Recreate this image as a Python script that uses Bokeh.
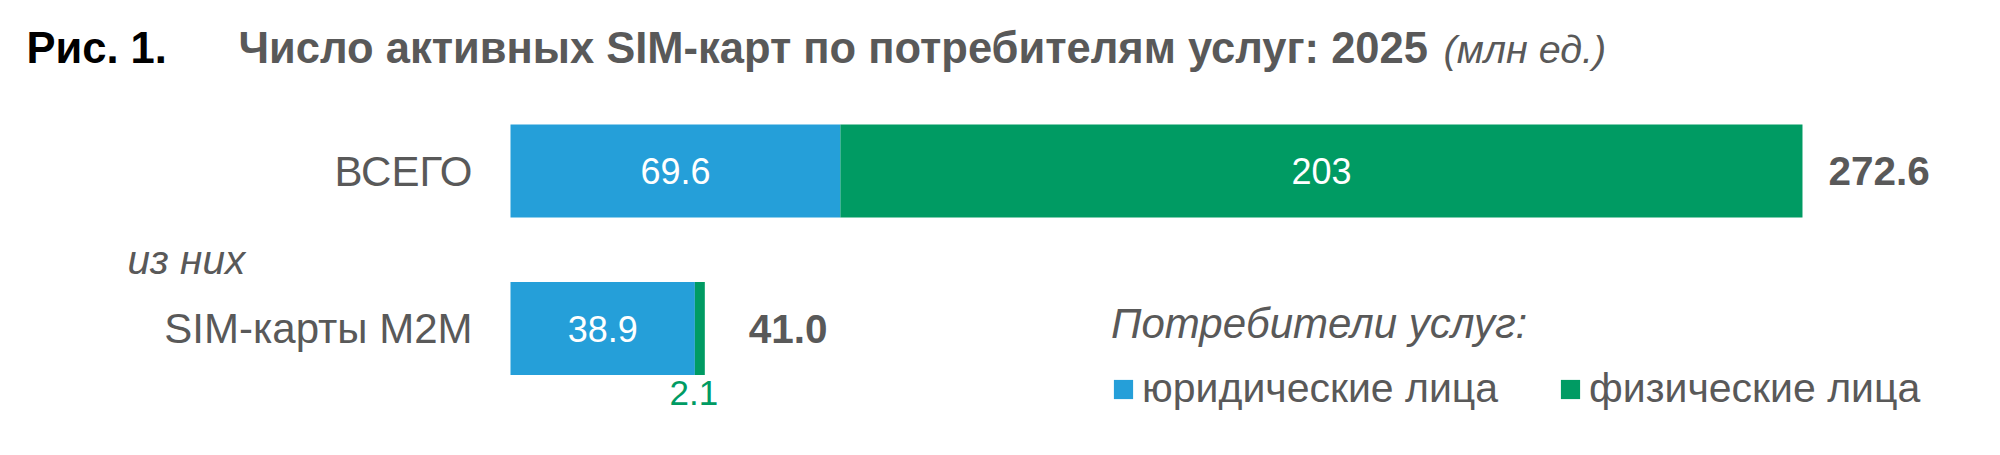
from bokeh.plotting import figure
from bokeh.models import ColumnDataSource, Range1d, Label, Legend, LegendItem
from bokeh.core.properties import value
from bokeh.embed import file_html
from bokeh.resources import INLINE

# ---------------- data ----------------
categories = ["ВСЕГО", "SIM-карты M2M"]
legal = [69.6, 38.9]          # юридические лица
individual = [203.0, 2.1]     # физические лица
totals = [272.6, 41.0]
legal_labels = ["69.6", "38.9"]
indiv_labels = ["203", "2.1"]
total_labels = ["272.6", "41.0"]
series_names = ["юридические лица", "физические лица"]
title_fig = "Рис. 1."
title_main = "Число активных SIM-карт по потребителям услуг: 2025"
title_unit = "(млн ед.)"
subgroup_note = "из них"
legend_title = "Потребители услуг:"

# ---------------- style ----------------
BLUE = "#259FD9"
GREEN = "#009B63"
GRAY = "#595959"
FONT = "Liberation Sans"
W, H = 1984, 439
ZERO_PX = 510            # pixel of value 0
PX_PER_UNIT = 4.7395     # pixels per million
ROW0_PX, ROW_STEP = 170.5, 157.5
BAR_H = 0.59
total_offsets = [26, 44]

ys = list(range(len(categories)))
x_range = Range1d(-ZERO_PX / PX_PER_UNIT, (W - ZERO_PX) / PX_PER_UNIT)
y_range = Range1d(start=(H - ROW0_PX) / ROW_STEP, end=-ROW0_PX / ROW_STEP)

p = figure(width=W, height=H, x_range=x_range, y_range=y_range,
           output_backend="svg", toolbar_location=None,
           x_axis_location=None, y_axis_location=None, min_border=0)
p.grid.visible = False
p.outline_line_color = None
p.background_fill_color = "white"
p.border_fill_color = "white"

indiv_left = legal
indiv_right = [a + b for a, b in zip(legal, individual)]
src = ColumnDataSource(dict(y=ys, legal=legal, il=indiv_left, ir=indiv_right))

r_legal = p.hbar(y="y", left=0, right="legal", height=BAR_H, source=src,
                 fill_color=BLUE, line_color=None)
r_indiv = p.hbar(y="y", left="il", right="ir", height=BAR_H, source=src,
                 fill_color=GREEN, line_color=None)

# segment labels
in_x, in_y, in_t = [], [], []
out_x, out_y, out_t = [], [], []
for i in ys:
    for left, v, lab in ((0.0, legal[i], legal_labels[i]),
                         (legal[i], individual[i], indiv_labels[i])):
        xc = left + v / 2
        if v * PX_PER_UNIT > 40:
            in_x.append(xc); in_y.append(i); in_t.append(lab)
        else:
            out_x.append(xc); out_y.append(i); out_t.append(lab)

p.text(x=in_x, y=in_y, text=in_t, text_align="center", text_baseline="middle",
       text_color="white", text_font=value(FONT), text_font_size="36px")
p.text(x=out_x, y=out_y, text=out_t, text_align="center", text_baseline="middle",
       text_color=GREEN, text_font=value(FONT), text_font_size="35px",
       x_offset=-6, y_offset=64)

# totals
p.text(x=totals, y=ys, text=total_labels, x_offset=total_offsets,
       text_align="left", text_baseline="middle", text_color=GRAY,
       text_font=value(FONT), text_font_size="40.5px", text_font_style="bold")

# category labels
p.text(x=[0] * len(ys), y=ys, text=categories, x_offset=-38,
       text_align="right", text_baseline="middle", text_color=GRAY,
       text_font=value(FONT), text_font_size="42px")

# note "из них"
p.add_layout(Label(x=127, y=H - 259, x_units="screen", y_units="screen",
                   text=subgroup_note, text_font=FONT, text_font_size="40.5px",
                   text_font_style="italic", text_color=GRAY,
                   text_baseline="middle"))

# title
p.add_layout(Label(x=26, y=H - 47, x_units="screen", y_units="screen",
                   text=title_fig, text_font=FONT, text_font_size="43.5px",
                   text_font_style="bold", text_color="black",
                   text_baseline="middle"))
p.add_layout(Label(x=238, y=H - 47, x_units="screen", y_units="screen",
                   text=title_main, text_font=FONT, text_font_size="43.5px",
                   text_font_style="bold", text_color=GRAY,
                   text_baseline="middle"))
p.add_layout(Label(x=1443, y=H - 48, x_units="screen", y_units="screen",
                   text=title_unit, text_font=FONT, text_font_size="39.5px",
                   text_font_style="italic", text_color=GRAY,
                   text_baseline="middle"))

legend = Legend(items=[LegendItem(label=series_names[0], renderers=[r_legal]),
                       LegendItem(label=series_names[1], renderers=[r_indiv])],
                orientation="horizontal", location=(1111, 27),
                title=legend_title, title_text_font=FONT,
                title_text_font_size="42px", title_text_font_style="italic",
                title_text_color=GRAY, title_standoff=17,
                label_text_font=FONT, label_text_font_size="41px",
                label_text_color=GRAY, glyph_width=24, glyph_height=24,
                label_standoff=7, spacing=60, padding=0, margin=0,
                border_line_color=None, background_fill_alpha=0)
p.add_layout(legend)

open("out.html", "w").write(file_html(p, INLINE))
